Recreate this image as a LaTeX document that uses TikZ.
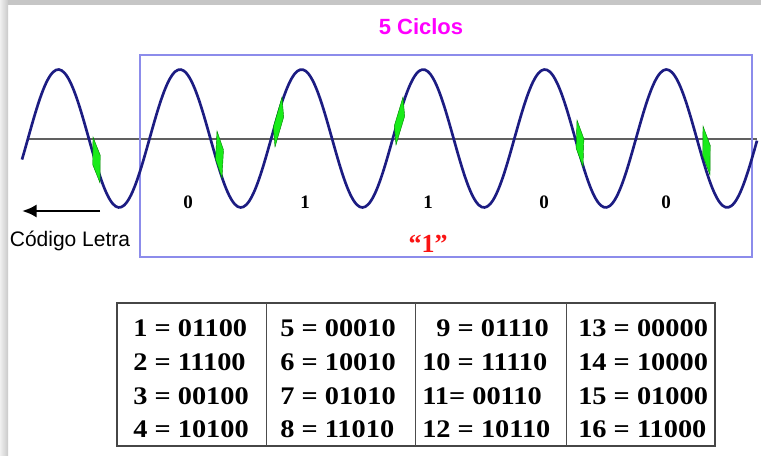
\documentclass[tikz,border=0pt]{standalone}
\usepackage{fontspec}
\setmainfont{Liberation Serif}
\setsansfont{Liberation Sans}
\usepackage{graphicx}
\usetikzlibrary{arrows.meta,calc,positioning}
\definecolor{WaveBlue}{RGB}{28,28,130}
\definecolor{BoxBlue}{RGB}{140,140,235}
\definecolor{MarkGreen}{RGB}{25,235,25}
\definecolor{CycleMagenta}{RGB}{255,0,255}
\definecolor{LetterRed}{RGB}{250,20,20}
\newcommand{\codeentry}[1]{\scalebox{1.12}[1]{#1}}

\begin{document}
\begin{tikzpicture}[x=0.75pt,y=-0.75pt,>=Latex,
    codetext/.style={anchor=west,inner sep=0pt,font=\bfseries\fontsize{19}{21}\selectfont},
    bitlabel/.style={inner sep=0pt,font=\bfseries\fontsize{14.25}{16}\selectfont}]
  \useasboundingbox (0,0) rectangle (761,456);
  \fill[gray!45] (0,0) rectangle (761,5);
  \shade[left color=gray!12,right color=gray!42] (0,0) rectangle (8,456);
  \draw[gray!75!black,line width=1.1pt] (28,139) -- (757,139);
  \draw[BoxBlue,line width=1.1pt] (140,55) rectangle (752,257);
  \draw[WaveBlue,line width=2pt]
    plot[domain=22:757,samples=260,smooth] (\x,{138.5-69*sin((\x-28)/121.6*360)});
  \foreach \tx/\ty/\bx/\by in {93/137/100/183,217/131/222/178,282/97/275/147,
      403/97/396/145,577/120/583/167,703/126/710/175}
    \fill[MarkGreen,draw=green!50!black,line width=0.3pt] (\tx,\ty)
      -- ($(\tx,\ty)!.4!(\bx,\by)+(4.5,0)$) -- (\bx,\by)
      -- ($(\tx,\ty)!.6!(\bx,\by)+(-4.5,0)$) -- cycle;
  \foreach \bx/\bit [count=\i] in {188/0,305/1,428/1,544/0,666/0}
    \node[bitlabel] (bit\i) at (\bx,202) {\bit};
  \node[font=\sffamily\bfseries\fontsize{16.5}{18}\selectfont,text=CycleMagenta]
    (cycles) at (421,27) {5 Ciclos};
  \node[font=\bfseries\fontsize{19.5}{21}\selectfont,text=LetterRed,inner sep=0pt]
    (letter) at (428,244) {``1''};
  \node[anchor=base,inner sep=0pt,font=\sffamily\fontsize{15.75}{18}\selectfont]
    (lettercode) at (70,247) {Código Letra};
  \coordinate (arrowtail) at (100,211);
  \coordinate (arrowtip) at (22,211);
  \draw[-{Latex[length=11pt,width=10pt]},line width=2.2pt] (arrowtail) -- (arrowtip);
  \draw[gray!55!black,line width=0.9pt] (117,303) rectangle (715,446);
  \foreach \cx in {266,415,566}
    \draw[gray!60!black,line width=0.7pt] (\cx,303) -- (\cx,446);
  \foreach \ex/\ey/\etext [count=\i] in {
      133/328/{1 = 01100},133/362/{2 = 11100},133/396/{3 = 00100},133/429/{4 = 10100},
      280/328/{5 = 00010},280/362/{6 = 10010},280/396/{7 = 01010},280/429/{8 = 11010},
      422/328/{\hphantom{1}9 = 01110},422/362/{10 = 11110},422/396/{11= 00110},422/429/{12 = 10110},
      578/328/{13 = 00000},578/362/{14 = 10000},578/396/{15 = 01000},578/429/{16 = 11000}}
    \node[codetext] (code\i) at (\ex,\ey) {\codeentry{\etext}};
\end{tikzpicture}
\end{document}
